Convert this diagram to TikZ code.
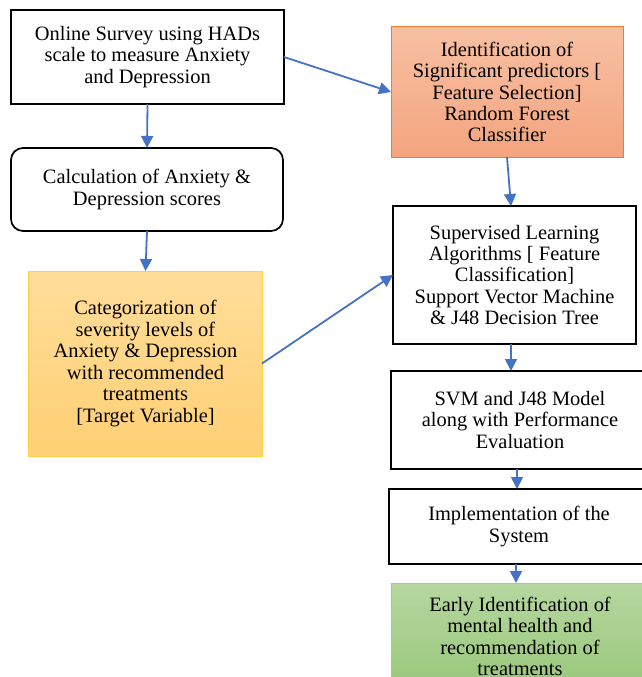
\documentclass[tikz,border=0pt]{standalone}
\usepackage{fontspec}
\setmainfont{Liberation Serif}
\usetikzlibrary{arrows.meta}
\definecolor{arrblue}{HTML}{4472C4}
\definecolor{ylwtop}{HTML}{FFDD9A}
\definecolor{ylwbot}{HTML}{FFD074}
\definecolor{ylwline}{HTML}{FFCF45}
\definecolor{orgtop}{HTML}{F7C0A3}
\definecolor{orgbot}{HTML}{F4A47F}
\definecolor{orgline}{HTML}{ED7D31}
\definecolor{grntop}{HTML}{B6D7A0}
\definecolor{grnbot}{HTML}{98C77A}
\definecolor{grnline}{HTML}{A3CC88}
\begin{document}
\begin{tikzpicture}[x=1bp,y=-1bp,
  base/.style={align=center, font=\fontsize{20.5}{21.5}\selectfont, inner sep=0pt, outer sep=0pt},
  box/.style={base, draw=black, line width=1.7bp, fill=white},
  ybox/.style={base, draw=ylwline, line width=1bp, top color=ylwtop, bottom color=ylwbot},
  obox/.style={base, draw=orgline, line width=1bp, top color=orgtop, bottom color=orgbot},
  gbox/.style={base, draw=grnline, line width=1bp, top color=grntop, bottom color=grnbot},
  arr/.style={draw=arrblue, line width=1.8bp, -{Triangle[length=12bp,width=12bp]}}]
\useasboundingbox (0,0) rectangle (642,677);
\clip (0,0) rectangle (642,677);

\node[box, minimum width=273bp, minimum height=94bp] (b1) at (147.5,57)
  {Online Survey using HADs\\scale to measure Anxiety\\and Depression};
\node[box, rounded corners=12bp, minimum width=272bp, minimum height=83bp] (b2) at (147,189.5)
  {Calculation of Anxiety \&\\Depression scores};
\node[ybox, minimum width=233bp, minimum height=185bp] (b3) at (145.5,363.5)
  {Categorization of\\severity levels of\\Anxiety \& Depression\\with recommended\\treatments\\{[}Target Variable{]}};
\node[obox, minimum width=232bp, minimum height=130bp] (b4) at (507,92)
  {Identification of\\Significant predictors {[}\\Feature Selection{]}\\Random Forest\\Classifier};
\node[box, line width=2bp, minimum width=243bp, minimum height=138bp] (b5) at (514.5,275)
  {Supervised Learning\\Algorithms {[} Feature\\Classification{]}\\Support Vector Machine\\\& J48 Decision Tree};
\node[box, minimum width=258bp, minimum height=98bp] (b6) at (520,420)
  {SVM and J48 Model\\along with Performance\\Evaluation};
\node[box, minimum width=260bp, minimum height=75bp] (b7) at (519,526.5)
  {Implementation of the\\System};
\node[gbox, minimum width=258bp, minimum height=107bp] (b8) at (520,636.5)
  {Early Identification of\\mental health and\\recommendation of\\treatments};

\draw[arr] (b1.south) -- (b2.north);
\draw[arr] (b2.south) -- (b3.north);
\draw[arr] (b1.east) -- (b4.west);
\draw[arr] (b3.east) -- (b5.west);
\draw[arr] (b4.south) -- (b5.north -| 511,0);
\draw[arr] (b5.south -| 511,0) -- (b6.north -| 511,0);
\draw[arr] (b6.south -| 517,0) -- (b7.north -| 517,0);
\draw[arr] (b7.south -| 516,0) -- (b8.north -| 516,0);
\end{tikzpicture}
\end{document}
